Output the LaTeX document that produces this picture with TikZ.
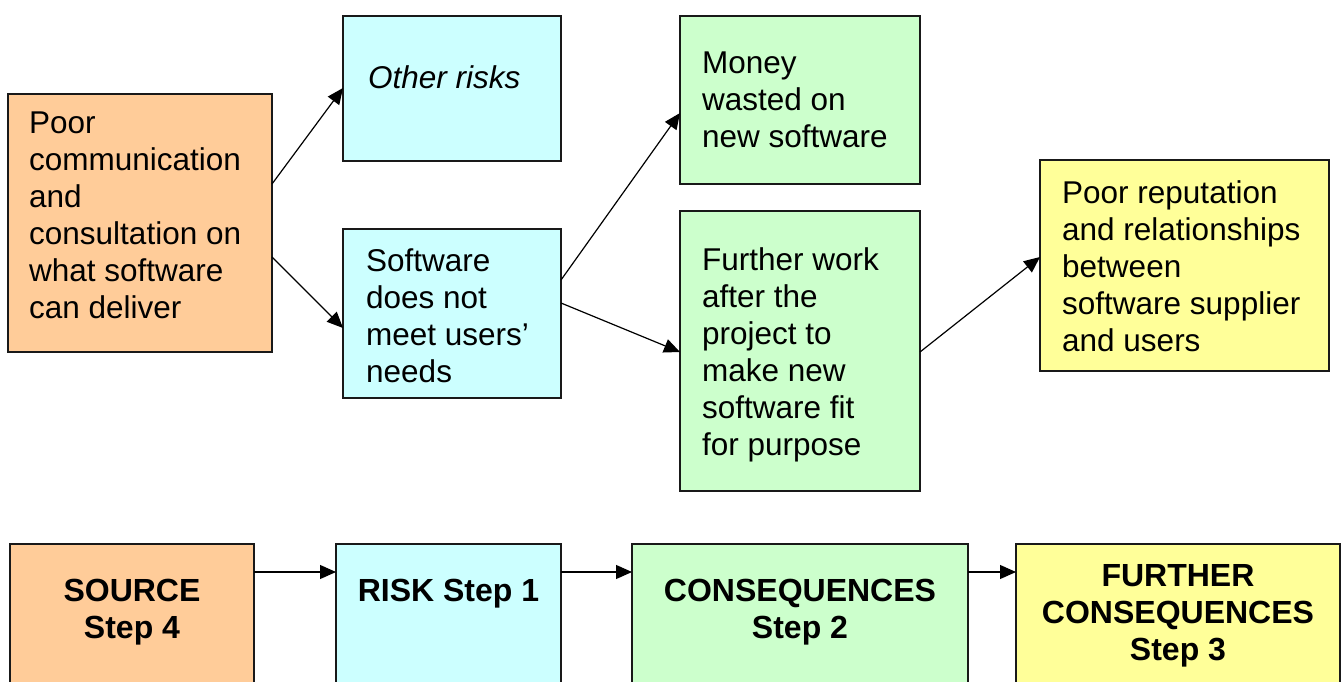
\documentclass[tikz,border=0pt]{standalone}
\usepackage{fontspec}
\setmainfont{Liberation Sans}
\usetikzlibrary{arrows.meta}
\definecolor{srcfill}{HTML}{FFCC99}
\definecolor{riskfill}{HTML}{CCFFFF}
\definecolor{consfill}{HTML}{CCFFCC}
\definecolor{furfill}{HTML}{FFFF99}
\tikzset{
  box/.style={draw=black!90, line width=1.3pt, anchor=north west, inner sep=0pt, outer sep=0pt},
  txt/.style={anchor=north west, inner sep=0pt, align=left, font=\fontsize{31.5}{37}\selectfont},
  steptxt/.style={anchor=north, inner sep=0pt, align=center, font=\fontsize{32}{37}\selectfont\bfseries},
  link/.style={line width=1.2pt, -{Triangle[length=16pt,width=14pt]}}
}
\newcommand{\boxat}[6]{% name, fill, x1, y1, x2, y2
  \node[box, fill=#2, minimum width={#5pt-#3pt}, minimum height={#6pt-#4pt}] (#1) at (#3,#4) {};}
\begin{document}
\begin{tikzpicture}[x=1pt, y=-1pt]
\useasboundingbox (0,0) rectangle (1342,682);
\clip (0,0) rectangle (1342,682);

% upper chain of boxes
\boxat{src}{srcfill}{8}{94}{272}{352}
\boxat{oth}{riskfill}{343}{16}{561}{161}
\boxat{sw}{riskfill}{343}{229}{561}{398}
\boxat{money}{consfill}{680}{16}{920}{184}
\boxat{work}{consfill}{680}{211}{920}{491}
\boxat{rep}{furfill}{1040}{160}{1329}{371}

\node[txt] (tsrc) at (29,112) {Poor\\communication\\and\\consultation on\\what software\\can deliver};
\node[txt, font=\fontsize{31.5}{37}\selectfont\itshape] (toth) at (368,65) {Other risks};
\node[txt] (tsw) at (366,249) {Software\\does not\\meet users’\\needs};
\node[txt] (tmoney) at (702,52) {Money\\wasted on\\new software};
\node[txt] (twork) at (702,247) {Further work\\after the\\project to\\make new\\software fit\\for purpose};
\node[txt] (trep) at (1062,180) {Poor reputation\\and relationships\\between\\software supplier\\and users};

\draw[link] ([yshift=-90pt]src.north east) -- ([yshift=-72pt]oth.north west);
\draw[link] ([yshift=-163pt]src.north east) -- ([yshift=-99pt]sw.north west);
\draw[link] ([yshift=-51pt]sw.north east) -- ([yshift=-97pt]money.north west);
\draw[link] ([yshift=-74pt]sw.north east) -- ([yshift=-141pt]work.north west);
\draw[link] ([yshift=-141pt]work.north east) -- ([yshift=-97pt]rep.north west);

% lower row: the steps
\boxat{ssrc}{srcfill}{10}{544}{254}{700}
\boxat{srisk}{riskfill}{336}{544}{561}{700}
\boxat{scons}{consfill}{632}{544}{968}{700}
\boxat{sfur}{furfill}{1016}{544}{1340}{700}

\node[steptxt] (lsrc) at (132,579) {SOURCE\\Step 4};
\node[steptxt] (lrisk) at (448.5,579) {RISK Step 1};
\node[steptxt] (lcons) at (800,579) {CONSEQUENCES\\Step 2};
\node[steptxt] (lfur) at (1178,564) {FURTHER\\CONSEQUENCES\\Step 3};

\draw[link] ([yshift=-28pt]ssrc.north east) -- ([yshift=-28pt]srisk.north west);
\draw[link] ([yshift=-28pt]srisk.north east) -- ([yshift=-28pt]scons.north west);
\draw[link] ([yshift=-28pt]scons.north east) -- ([yshift=-28pt]sfur.north west);
\end{tikzpicture}
\end{document}
